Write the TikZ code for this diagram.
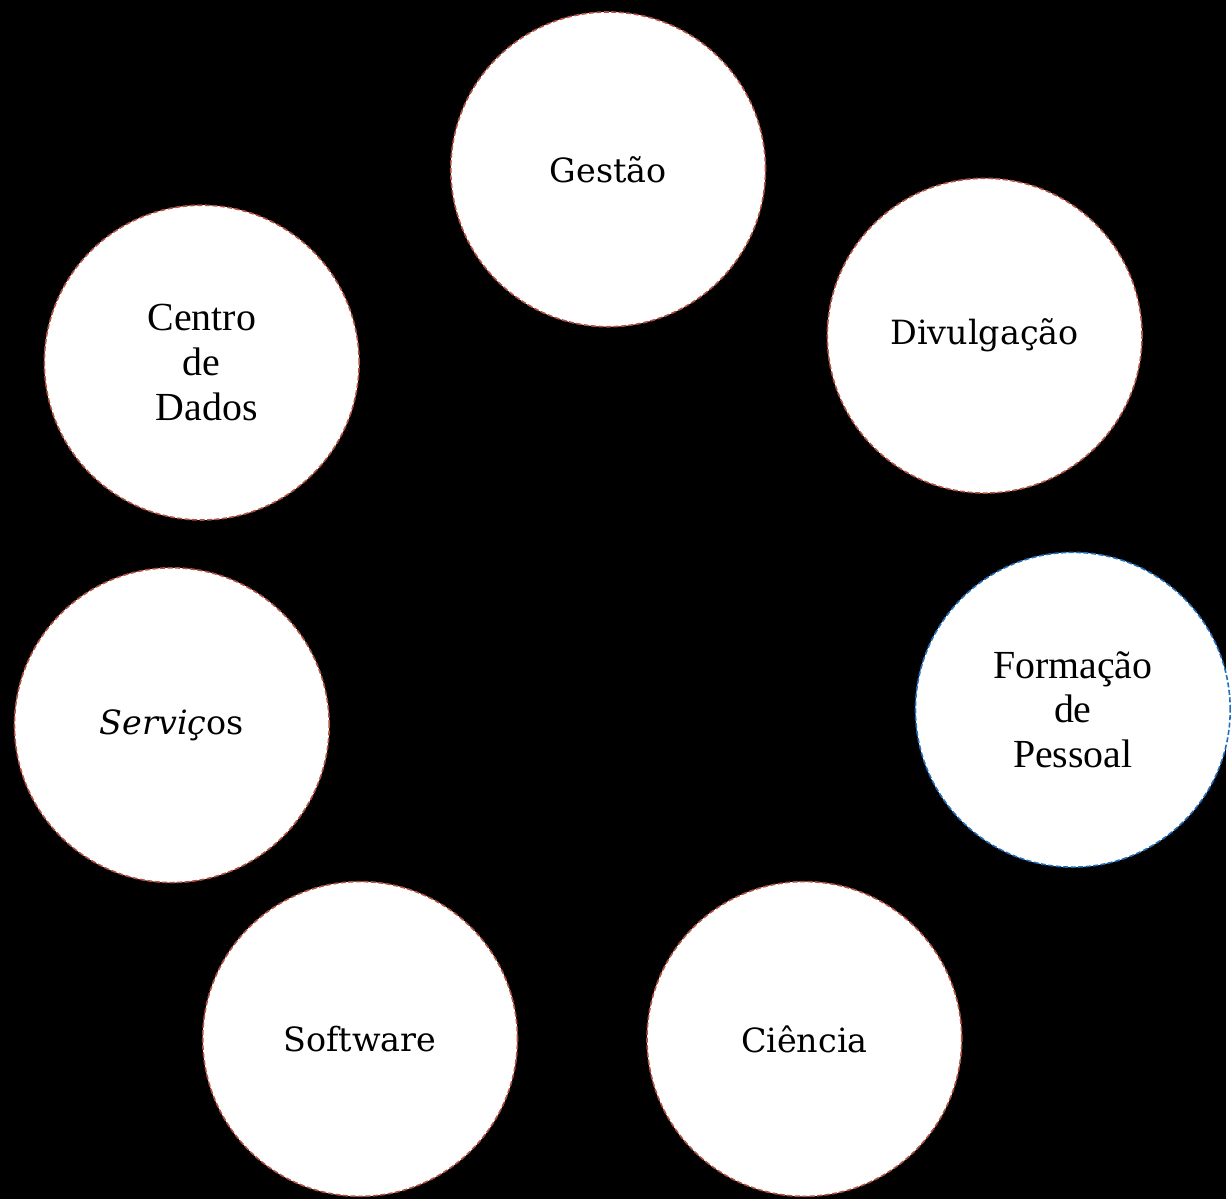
\documentclass[tikz,border=0pt]{standalone}
\usepackage{fontspec}
\setmainfont{Liberation Serif}
\newfontfamily\georgialike{DejaVu Serif}
\definecolor{ringred}{HTML}{B5503F}
\definecolor{ringblue}{HTML}{1F6FC0}
\begin{document}
\begin{tikzpicture}[x=1pt,y=-1pt,
  circ/.style={circle, fill=white, draw=ringred, line width=1.6pt, dash pattern=on 5pt off 2.5pt, minimum size=316pt, inner sep=0pt, align=center, text=black},
  gfont/.style={font=\georgialike\fontsize{33.5}{44}\selectfont},
  tfont/.style={font=\fontsize{40}{45}\selectfont}]
\fill[black] (0,0) rectangle (1231,1204);
\node[circ,gfont] (gestao) at (610.5,170) {Gestão};
\node[circ,gfont] (divulgacao) at (988.5,337) {Divulgação};
\node[circ,tfont,draw=ringblue] (formacao) at (1077,712.5) {Formação\\de\\Pessoal};
\node[circ,gfont] (ciencia) at (807.5,1043) {Ciência};
\node[circ,gfont] (software) at (361.5,1043) {Software};
\node[circ,gfont] (servicos) at (172.5,728) {\textit{Serviç}os};
\node[circ,tfont] (centro) at (202.5,364) {Centro\\de\\\ Dados};
\end{tikzpicture}
\end{document}
